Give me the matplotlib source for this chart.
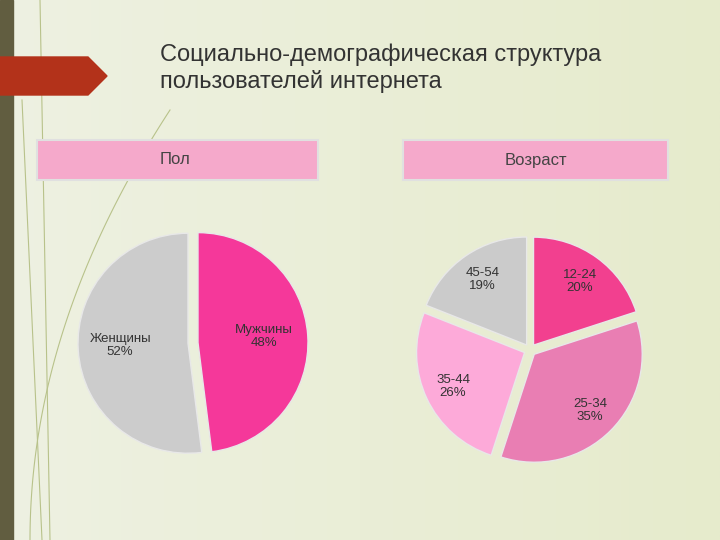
import matplotlib
matplotlib.use("Agg")
import matplotlib.pyplot as plt
import numpy as np
from matplotlib.patches import Polygon, Rectangle

title = "Социально-демографическая структура\nпользователей интернета"
sex_labels = ["Мужчины", "Женщины"]
sex_values = [48, 52]
sex_colors = ["#f5389a", "#cccccc"]
age_labels = ["12-24", "25-34", "35-44", "45-54"]
age_values = [20, 35, 26, 19]
age_colors = ["#f2408f", "#e97eb3", "#fdaad9", "#cbcbcb"]

plt.rcParams['font.family'] = ['Liberation Sans', 'DejaVu Sans']
fig = plt.figure(figsize=(7.2, 5.4), dpi=100)
ax = fig.add_axes([0, 0, 1, 1])
ax.set_xlim(0, 720); ax.set_ylim(540, 0); ax.set_aspect('equal'); ax.axis('off')

grad = np.linspace(0, 1, 256)[None, :]
ax.imshow(grad, extent=[0, 720, 540, 0], cmap=matplotlib.colors.LinearSegmentedColormap.from_list("bg", ["#eef1e2", "#e6ebcc"]), aspect='auto', zorder=0)
ax.add_patch(Rectangle((0, 0), 13, 540, color="#615d40", zorder=1))
t = np.linspace(0, 1, 100)
ax.plot(40 + 10*t, 540*t, color="#b8c28a", lw=0.8, zorder=1)
ax.plot(30 + 140*t**2, 540 - 430*t, color="#b8c28a", lw=0.8, zorder=1)
ax.plot(22 + 20*t, 100 + 440*t, color="#b8c28a", lw=0.8, zorder=1)
ax.add_patch(Polygon([[0, 57], [88, 57], [107, 76], [88, 95], [0, 95]], color="#b3321a", zorder=2))
ax.text(160, 68, title, fontsize=17, color="#333333", va='center', ha='left', linespacing=1.25, zorder=3)

for x0, w, lab, tx in [(37, 281, "Пол", 160), (403, 265, "Возраст", 505)]:
    ax.add_patch(Rectangle((x0, 140), w, 40, facecolor="#f5a9cb", edgecolor="#e0e0e0", lw=1.5, zorder=2))
    ax.text(tx, 160, lab, fontsize=12, color="#444444", va='center', ha='left', zorder=3)

tp = dict(fontsize=9.5, color="#333333", linespacing=1.1)
# y axis is inverted: startangle -90 points up, counterclock=True draws clockwise on screen
ax.pie(sex_values, colors=sex_colors, startangle=-90, counterclock=True,
       center=(192, 343), radius=110, explode=[6, 4], frame=True,
       wedgeprops=dict(edgecolor="#e8e8e8", lw=1))
ang = 90
for v, lab in zip(sex_values, sex_labels):
    mid = np.deg2rad(ang - v*1.8); ang -= v*3.6
    ax.text(192 + 72*np.cos(mid), 343 - 72*np.sin(mid) - 2, f"{lab}\n{v}%", ha='center', va='center', zorder=5, **tp)

ax.pie(age_values, colors=age_colors, startangle=-90, counterclock=True,
       center=(530, 350), radius=108, explode=[6, 6, 6, 6], frame=True,
       wedgeprops=dict(edgecolor="#e8e8e8", lw=1))
ang = 90
for v, lab in zip(age_values, age_labels):
    mid = np.deg2rad(ang - v*1.8); ang -= v*3.6
    ax.text(530 + 85*np.cos(mid), 350 - 85*np.sin(mid), f"{lab}\n{v}%", ha='center', va='center', zorder=5, **tp)

ax.set_xlim(0, 720); ax.set_ylim(540, 0); ax.axis('off')
fig.savefig("out.png", dpi=100)
